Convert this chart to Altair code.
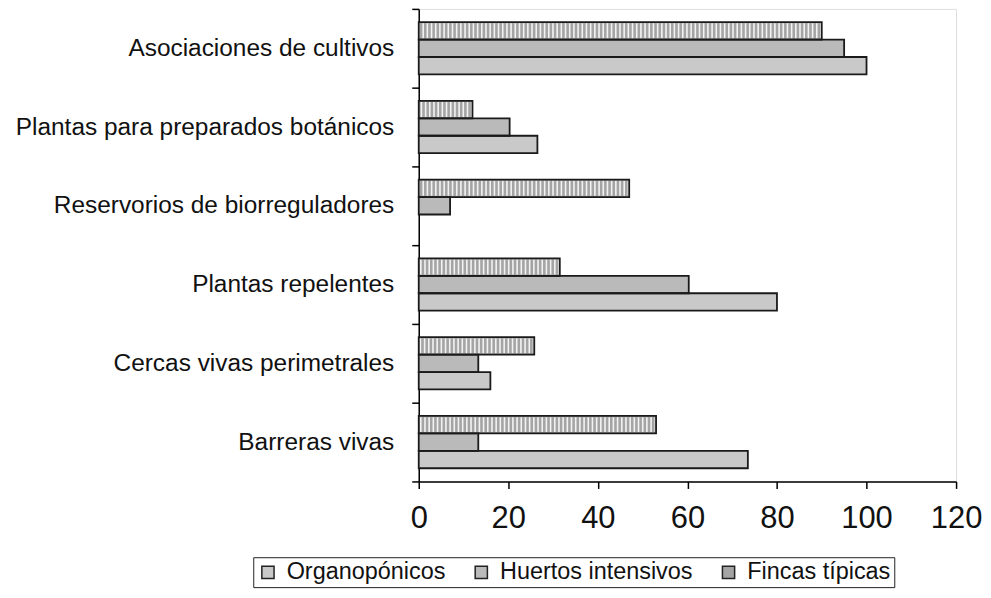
import altair as alt
import pandas as pd

categories = ["Asociaciones de cultivos", "Plantas para preparados botánicos",
              "Reservorios de biorreguladores", "Plantas repelentes",
              "Cercas vivas perimetrales", "Barreras vivas"]
series_bar_order = ["Fincas típicas", "Huertos intensivos", "Organopónicos"]
legend_order = ["Organopónicos", "Huertos intensivos", "Fincas típicas"]
fincas = [90, 12, 47, 31.5, 25.8, 53]
huertos = [95, 20.3, 7, 60.3, 13.3, 13.3]
organo = [100, 26.5, 0, 80, 16, 73.5]
x_ticks = [0, 20, 40, 60, 80, 100, 120]

rows = []
for i, c in enumerate(categories):
    rows.append({"cat": c, "serie": "Fincas típicas", "v": fincas[i]})
    rows.append({"cat": c, "serie": "Huertos intensivos", "v": huertos[i]})
    rows.append({"cat": c, "serie": "Organopónicos", "v": organo[i]})
df = pd.DataFrame(rows)

FONT = "Liberation Sans"

y_enc = alt.Y("cat:N", sort=categories, title=None,
              scale=alt.Scale(paddingInner=0, paddingOuter=0),
              axis=alt.Axis(tickBand="extent", labelFontSize=24.5, labelFont=FONT,
                            labelColor="#111", labelPadding=18, tickSize=7,
                            tickColor="#000", domainColor="#000", domainWidth=1.5,
                            tickWidth=1.5, labelLimit=600))
yoff_enc = alt.YOffset("serie:N", sort=series_bar_order,
                       scale=alt.Scale(paddingInner=0, paddingOuter=0.757))
x_enc = alt.X("v:Q", title=None,
              scale=alt.Scale(domain=[0, 120], nice=False),
              axis=alt.Axis(values=x_ticks, grid=False, labelFontSize=31, labelFont=FONT,
                            labelColor="#111", labelPadding=15, tickSize=7,
                            labelFlush=False,
                            tickColor="#000", domainColor="#000", domainWidth=1.5,
                            tickWidth=1.5))

base = alt.Chart(df).transform_filter(alt.datum.v > 0)

fill_layer = base.mark_bar(strokeWidth=0).encode(
    y=y_enc, yOffset=yoff_enc, x=x_enc,
    color=alt.Color("serie:N",
                    scale=alt.Scale(domain=legend_order,
                                    range=["#c9c9c9", "#bababa", "#a4a4a4"]),
                    legend=alt.Legend(title=None, orient="none", direction="horizontal",
                                      legendX=-166, legendY=550,
                                      labelFontSize=23.5, labelFont=FONT, labelColor="#111",
                                      labelLimit=500,
                                      symbolType="square", symbolSize=150,
                                      symbolStrokeColor="#222", symbolStrokeWidth=1.5,
                                      strokeColor="#222", padding=3,
                                      columnPadding=24, labelOffset=7))
)

stripes = base.transform_filter(alt.datum.serie == "Fincas típicas").mark_rule(
    strokeWidth=15, strokeDash=[1.6, 2.6], color="#f2f2f2", strokeCap="butt"
).encode(y=y_enc, yOffset=yoff_enc, x=x_enc, x2=alt.datum(0))

outline = base.mark_bar(fillOpacity=0, stroke="#1a1a1a", strokeWidth=1.8).encode(
    y=y_enc, yOffset=yoff_enc, x=x_enc
)

chart = alt.layer(fill_layer, stripes, outline).properties(
    width=539, height=474,
    autosize=alt.AutoSizeParams(type="none"),
    padding={"left": 412, "top": 0, "right": 27, "bottom": 110},
).configure_view(stroke=None).configure(background="white")

chart.save("out.html", embed_options={"renderer": "svg", "actions": False})
